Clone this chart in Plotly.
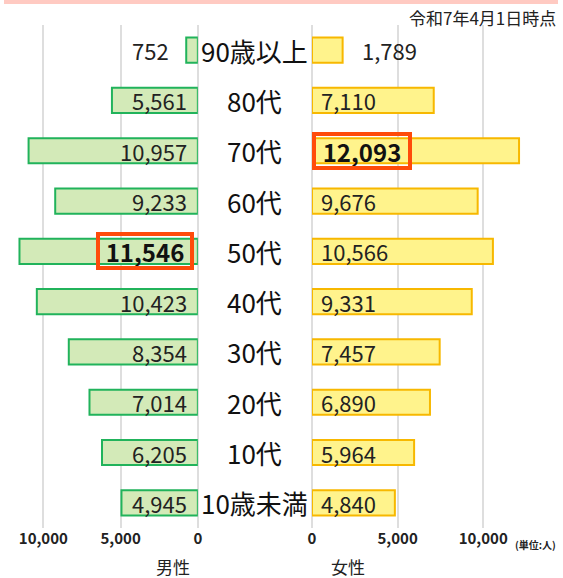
import plotly.graph_objects as go

categories = ["90歳以上", "80代", "70代", "60代", "50代", "40代", "30代", "20代", "10代", "10歳未満"]
male = [752, 5561, 10957, 9233, 11546, 10423, 8354, 7014, 6205, 4945]
female = [1789, 7110, 12093, 9676, 10566, 9331, 7457, 6890, 5964, 4840]
tick_vals = [0, 5000, 10000]
tick_text = ["0", "5,000", "10,000"]
highlight_male = "50代"
highlight_female = "70代"
outside_cat = "90歳以上"

W, H = 563, 578
FONT = "Noto Sans CJK JP, Noto Sans, sans-serif"

fig = go.Figure()
fig.add_trace(go.Bar(
    y=categories, x=male, orientation="h", xaxis="x", yaxis="y", width=0.5,
    marker=dict(color="#d3eab8", line=dict(color="#21b35b", width=2)),
    hoverinfo="x+y", showlegend=False))
fig.add_trace(go.Bar(
    y=categories, x=female, orientation="h", xaxis="x2", yaxis="y", width=0.5,
    marker=dict(color="#fff38c", line=dict(color="#f7b800", width=2)),
    hoverinfo="x+y", showlegend=False))

def fmt(v):
    return f"{v:,}"

VAL = 22
ann = []
for c, m, f in zip(categories, male, female):
    ann.append(dict(x=255 / W, xref="paper", y=c, yref="y", text=c, showarrow=False,
                    xanchor="center", yanchor="middle",
                    font=dict(family=FONT, size=26, color="#111")))
    if c == highlight_male:
        ann.append(dict(x=0, xref="x", y=c, yref="y", text=f"<b>{fmt(m)}</b>", showarrow=False,
                        xanchor="right", yanchor="middle", xshift=-4, width=90, height=30,
                        borderwidth=4, bordercolor="#ff4b0a", borderpad=0, align="center",
                        font=dict(family=FONT, size=24, color="#111")))
    elif c == outside_cat:
        ann.append(dict(x=m, xref="x", y=c, yref="y", text=fmt(m), showarrow=False,
                        xanchor="right", yanchor="middle", xshift=-15,
                        font=dict(family=FONT, size=VAL, color="#222")))
    else:
        ann.append(dict(x=0, xref="x", y=c, yref="y", text=fmt(m), showarrow=False,
                        xanchor="right", yanchor="middle", xshift=-9,
                        font=dict(family=FONT, size=VAL, color="#222")))
    if c == highlight_female:
        ann.append(dict(x=0, xref="x2", y=c, yref="y", text=f"<b>{fmt(f)}</b>", showarrow=False,
                        xanchor="left", yanchor="middle", xshift=0, width=92, height=30,
                        borderwidth=4, bordercolor="#ff4b0a", borderpad=0, align="center",
                        font=dict(family=FONT, size=24, color="#111")))
    elif c == outside_cat:
        ann.append(dict(x=f, xref="x2", y=c, yref="y", text=fmt(f), showarrow=False,
                        xanchor="left", yanchor="middle", xshift=17,
                        font=dict(family=FONT, size=VAL, color="#222")))
    else:
        ann.append(dict(x=0, xref="x2", y=c, yref="y", text=fmt(f), showarrow=False,
                        xanchor="left", yanchor="middle", xshift=7,
                        font=dict(family=FONT, size=VAL, color="#222")))

ann += [
    dict(x=1, xref="paper", xanchor="right", y=18, yref="paper", text="令和7年4月1日時点",
         showarrow=False, yanchor="middle", font=dict(family=FONT, size=17, color="#222")),
    dict(x=172 / W, xref="paper", y=566, yref="paper", text="男性", showarrow=False,
         xanchor="center", yanchor="middle", font=dict(family=FONT, size=17, color="#222")),
    dict(x=350 / W, xref="paper", y=566, yref="paper", text="女性", showarrow=False,
         xanchor="center", yanchor="middle", font=dict(family=FONT, size=17, color="#222")),
    dict(x=540 / W, xref="paper", y=544, yref="paper", text="(単位:人)", showarrow=False,
         xanchor="center", yanchor="middle", font=dict(family=FONT, size=10, color="#222", weight="bold")),
]
T, B = 25, 50
ph = H - T - B
for a in ann:
    if a.get("yref") == "paper":
        a["y"] = (H - B - a["y"]) / ph

grid = "#dedede"
tickfont = dict(family=FONT, size=15, color="#222", weight="bold")
fig.update_layout(
    width=W, height=H, margin=dict(l=0, r=0, t=T, b=B),
    paper_bgcolor="white", plot_bgcolor="white", barmode="overlay",
    xaxis=dict(domain=[0, 197 / W], range=[197 / 0.0157, 0], tickvals=tick_vals, ticktext=tick_text,
               showgrid=True, gridcolor=grid, gridwidth=2, zeroline=True, zerolinecolor=grid,
               zerolinewidth=2, showline=False, ticks="", tickfont=tickfont, fixedrange=True),
    xaxis2=dict(domain=[313 / W, 1], range=[0, 250 / 0.0174], tickvals=tick_vals, ticktext=tick_text,
                anchor="y", showgrid=True, gridcolor=grid, gridwidth=2, zeroline=True,
                zerolinecolor=grid, zerolinewidth=2, showline=False, ticks="", tickfont=tickfont,
                fixedrange=True),
    yaxis=dict(categoryorder="array", categoryarray=categories,
               showticklabels=False, showgrid=False, zeroline=False, range=[9.5, -0.5],
               fixedrange=True),
    annotations=ann,
    shapes=[dict(type="rect", xref="paper", yref="paper", x0=0, x1=1,
                 y0=(H - B - 4) / ph, y1=(H - B) / ph, fillcolor="#ffcac2", line=dict(width=0))],
)
fig.write_html("out.html", config={"displayModeBar": False},
               post_script="document.body.style.margin='0';document.body.style.padding='0';")
